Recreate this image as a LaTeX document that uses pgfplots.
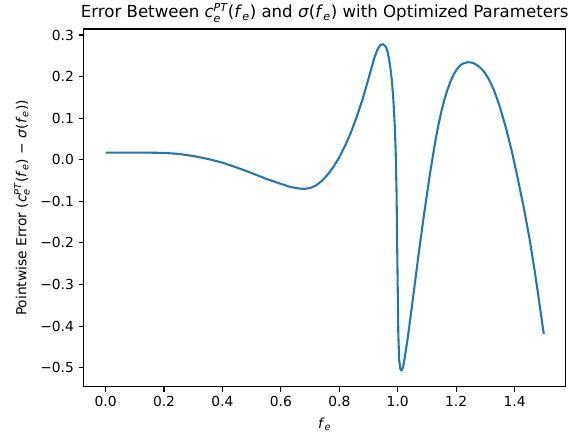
\documentclass[border=0pt]{standalone}
\usepackage{fontspec}
\setmainfont{DejaVu Sans}
\usepackage{amsmath}
\usepackage{pgfplots}
\pgfplotsset{compat=1.18}
\usetikzlibrary{calc}
\newcommand{\mi}[1]{\textit{#1}}
\definecolor{mplblue}{HTML}{1F77B4}
\pgfplotstableread{
x y
0.00 0.017
0.05 0.017
0.10 0.017
0.15 0.017
0.20 0.0165
0.25 0.014
0.30 0.009
0.35 0.002
0.40 -0.007
0.45 -0.019
0.50 -0.032
0.55 -0.046
0.60 -0.058
0.63 -0.065
0.66 -0.069
0.68 -0.070
0.70 -0.068
0.72 -0.062
0.74 -0.051
0.76 -0.036
0.78 -0.017
0.80 0.006
0.82 0.034
0.84 0.066
0.86 0.104
0.88 0.146
0.90 0.195
0.92 0.245
0.93 0.264
0.94 0.276
0.95 0.278
0.96 0.271
0.965 0.260
0.97 0.243
0.975 0.220
0.98 0.190
0.985 0.145
0.99 0.080
0.993 0.020
0.996 -0.080
0.998 -0.200
1.000 -0.310
1.002 -0.420
1.005 -0.482
1.009 -0.503
1.013 -0.507
1.018 -0.500
1.025 -0.472
1.035 -0.425
1.05 -0.345
1.07 -0.235
1.09 -0.132
1.11 -0.035
1.13 0.050
1.14 0.086
1.15 0.118
1.16 0.145
1.17 0.168
1.18 0.187
1.19 0.203
1.20 0.215
1.21 0.224
1.22 0.230
1.23 0.233
1.24 0.2345
1.25 0.234
1.26 0.232
1.27 0.228
1.28 0.223
1.29 0.216
1.30 0.207
1.31 0.196
1.32 0.182
1.33 0.166
1.34 0.147
1.35 0.126
1.37 0.078
1.39 0.022
1.41 -0.042
1.43 -0.110
1.45 -0.185
1.47 -0.272
1.49 -0.370
1.50 -0.419
}\errdata
\begin{document}
\begin{tikzpicture}
\begin{axis}[
  scale only axis, width=347bp, height=257.5bp,
  xmin=-0.075, xmax=1.575, ymin=-0.5457, ymax=0.3144,
  xtick={0,0.2,0.4,0.6,0.8,1.0,1.2,1.4},
  xticklabels={0.0,0.2,0.4,0.6,0.8,1.0,1.2,1.4},
  ytick={-0.5,-0.4,-0.3,-0.2,-0.1,0,0.1,0.2,0.3},
  yticklabels={−0.5,−0.4,−0.3,−0.2,−0.1,0.0,0.1,0.2,0.3},
  tick align=outside, tick pos=left, major tick length=3.5bp,
  every tick/.style={black, line width=0.8bp},
  axis line style={line width=0.8bp},
  tick label style={font=\fontsize{10}{12}\selectfont},
  title={Error Between \mi{c}$_{\mi{e}}^{\mi{PT}}$(\mi{f}$_{\mi{e}}$) and \mi{σ}(\mi{f}$_{\mi{e}}$) with Optimized Parameters},
  title style={font=\fontsize{12}{14}\selectfont, at={(axis description cs:0.5,1)}, anchor=base, yshift=2bp},
  xlabel={\mi{f}$_{\mi{e}}$},
  xlabel style={font=\fontsize{10}{12}\selectfont, at={(axis description cs:0.5,0)}, anchor=center, yshift=-26.9bp},
  ylabel={Pointwise Error (\mi{c}$_{\mi{e}}^{\mi{PT}}$(\mi{f}$_{\mi{e}}$) − \mi{σ}(\mi{f}$_{\mi{e}}$))},
  ylabel style={font=\fontsize{10}{12}\selectfont, at={(axis description cs:0,0.5)}, anchor=center, yshift=44.4bp},
]
\addplot[mplblue, line width=1.5bp, line join=round] table[x=x,y=y]{\errdata};
\coordinate (ll) at (rel axis cs:0,0);
\coordinate (ur) at (rel axis cs:1,1);
\end{axis}
\pgfresetboundingbox
\path ($(ll)+(-60.26bp,-34.06bp)$) rectangle ($(ur)+(5.26bp,20.88bp)$);
\end{tikzpicture}
\end{document}
